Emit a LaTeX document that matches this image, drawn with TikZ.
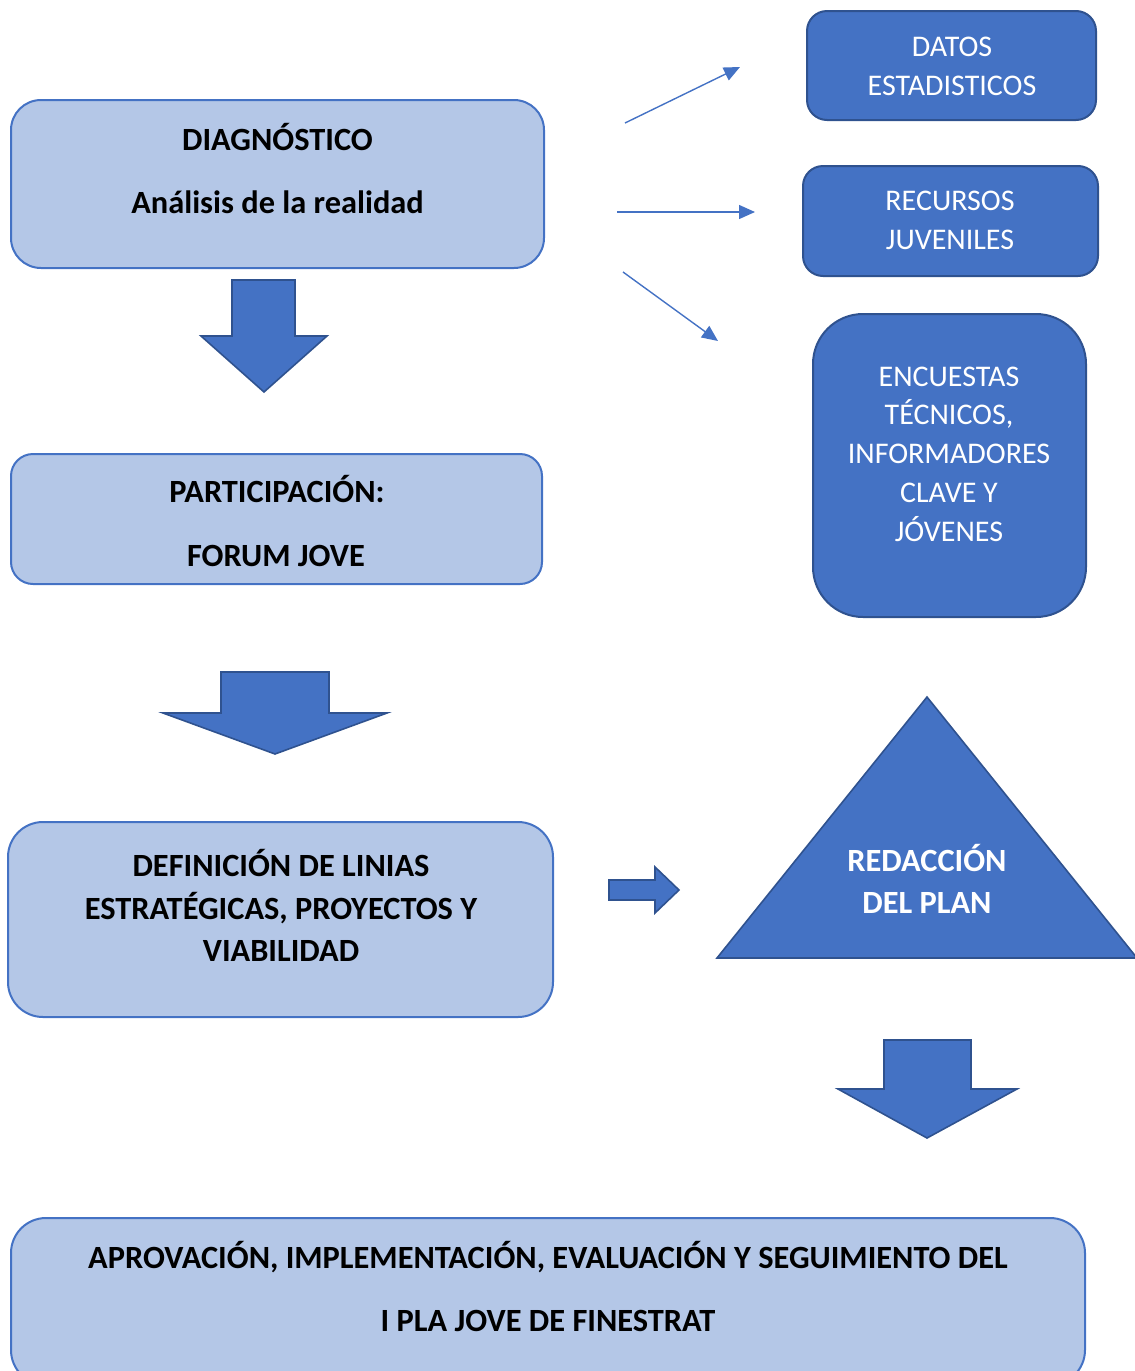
\documentclass[tikz,border=0pt]{standalone}
\usepackage{fontspec}
\setmainfont{Carlito}
\usetikzlibrary{arrows.meta}
\definecolor{lightb}{HTML}{B4C7E7}
\definecolor{midb}{HTML}{4472C4}
\definecolor{darkb}{HTML}{2F528F}
\tikzset{
  lbox/.style={draw=midb, fill=lightb, line width=1pt, rectangle, inner sep=0pt},
  dbox/.style={draw=darkb, fill=midb, line width=1pt, rectangle, inner sep=0pt},
  blk/.style={draw=darkb, fill=midb, line width=0.8pt, line join=miter},
  btxt/.style={font=\fontsize{16.2}{19}\selectfont\bfseries, text=black, inner sep=0pt, anchor=base},
  wtxt/.style={font=\fontsize{15}{18}\selectfont, text=white, inner sep=0pt, anchor=base},
  wbtxt/.style={font=\fontsize{16.2}{19}\selectfont\bfseries, text=white, inner sep=0pt, anchor=base},
  thin/.style={draw=midb, line width=0.7pt, -{Triangle[length=8pt,width=7pt]}}
}
\begin{document}
\begin{tikzpicture}[x=0.5pt,y=-0.5pt]
\useasboundingbox (0,0) rectangle (1135,1371);
% left column boxes
\node[lbox, rounded corners=15pt, minimum width=266.5pt, minimum height=84pt] (diag) at (277.5,184) {};
\node[btxt] (diag1) at (277.5,150) {DIAGNÓSTICO};
\node[btxt] (diag2) at (277.5,213) {Análisis de la realidad};

\node[lbox, rounded corners=11pt, minimum width=265.5pt, minimum height=65pt] (part) at (276.5,519) {};
\node[btxt] (part1) at (277,502) {PARTICIPACIÓN:};
\node[btxt] (part2) at (276,566) {FORUM JOVE};

\node[lbox, rounded corners=17.5pt, minimum width=272.5pt, minimum height=97.5pt] (defi) at (280.5,919.5) {};
\node[btxt] (defi1) at (281,876) {DEFINICIÓN DE LINIAS};
\node[btxt] (defi2) at (281,919) {ESTRATÉGICAS, PROYECTOS Y};
\node[btxt] (defi3) at (281,961) {VIABILIDAD};

\node[lbox, rounded corners=17.5pt, minimum width=537pt, minimum height=83.5pt] (apro) at (548,1301.5) {};
\node[btxt] (apro1) at (548,1268) {APROVACIÓN, IMPLEMENTACIÓN, EVALUACIÓN Y SEGUIMIENTO DEL};
\node[btxt] (apro2) at (548,1331) {I PLA JOVE DE FINESTRAT};

% right column boxes
\node[dbox, rounded corners=10pt, minimum width=144.5pt, minimum height=54.5pt] (dato) at (951.5,65.5) {};
\node[wtxt] (dato1) at (952,56.5) {DATOS};
\node[wtxt] (dato2) at (952,95.5) {ESTADISTICOS};

\node[dbox, rounded corners=10pt, minimum width=147.5pt, minimum height=55pt] (recu) at (950.5,221) {};
\node[wtxt] (recu1) at (950,210.5) {RECURSOS};
\node[wtxt] (recu2) at (950,249.5) {JUVENILES};

\node[dbox, rounded corners=25pt, minimum width=136.5pt, minimum height=151.5pt] (encu) at (949.5,465.5) {};
\node[wtxt] (encu1) at (949,386.5) {ENCUESTAS};
\node[wtxt] (encu2) at (949,424.5) {TÉCNICOS,};
\node[wtxt] (encu3) at (949,463.5) {INFORMADORES};
\node[wtxt] (encu4) at (949,502.5) {CLAVE Y};
\node[wtxt] (encu5) at (949,541.5) {JÓVENES};

% triangle
\draw[blk] (717,958) -- (927,697) -- (1137,958) -- cycle;
\node[wbtxt] (reda1) at (927,871) {REDACCIÓN};
\node[wbtxt] (reda2) at (927,913) {DEL PLAN};

% block arrows
\draw[blk] (232,280) -- (295,280) -- (295,336) -- (327,336) -- (264,392) -- (201,336) -- (232,336) -- cycle;
\draw[blk] (221,672) -- (329,672) -- (329,713) -- (387,713) -- (275,754) -- (163,713) -- (221,713) -- cycle;
\draw[blk] (609,880) -- (655,880) -- (655,867) -- (679,890) -- (655,913) -- (655,900) -- (609,900) -- cycle;
\draw[blk] (884,1040) -- (971,1040) -- (971,1089) -- (1017,1089) -- (927,1138) -- (838,1089) -- (884,1089) -- cycle;

% thin arrows
\coordinate (s1) at (625,123); \coordinate (e1) at (740,67);
\coordinate (s2) at (617,212); \coordinate (e2) at (755,212);
\coordinate (s3) at (623,272); \coordinate (e3) at (718,341);
\draw[thin] (s1) -- (e1);
\draw[thin] (s2) -- (e2);
\draw[thin] (s3) -- (e3);
\end{tikzpicture}
\end{document}
